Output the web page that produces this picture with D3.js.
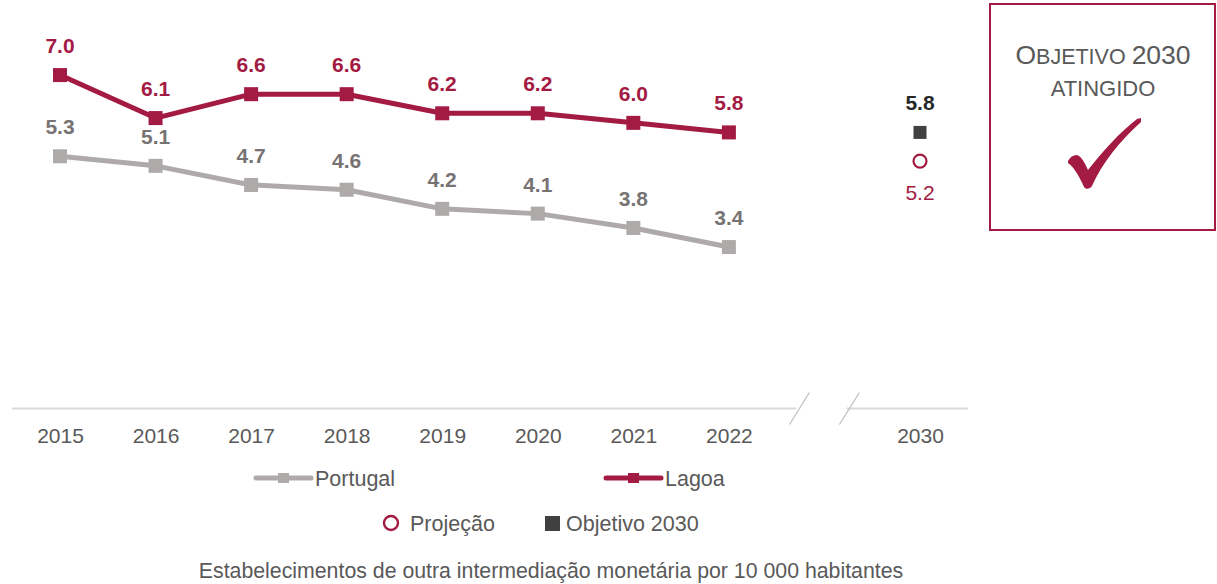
<!DOCTYPE html>
<html><head><meta charset="utf-8">
<script src="https://cdn.jsdelivr.net/npm/d3@7"></script>
<style>body{margin:0;background:#fff}svg{display:block;font-family:"Liberation Sans",Arial,sans-serif}</style>
</head><body><svg id="c" width="1217" height="584"></svg>
<script>
const years = ["2015","2016","2017","2018","2019","2020","2021","2022"];
const slots = [...years, "gap", "2030"];
const portugal = [5.3,5.1,4.7,4.6,4.2,4.1,3.8,3.4];
const lagoa = [7.0,6.1,6.6,6.6,6.2,6.2,6.0,5.8];
const objetivo2030 = 5.8;
const projecao2030 = 5.2;
const tickLabels = ["2015","2016","2017","2018","2019","2020","2021","2022","","2030"];
const title = "Estabelecimentos de outra intermediação monetária por 10 000 habitantes";

const RED = "#A31A42", GREY = "#AEAAAA", LBLGREY = "#777373", AX = "#595959", DARK = "#404040";
const svg = d3.select("#c");
const x = d3.scalePoint().domain(slots).range([60, 920]);
const y = d3.scaleLinear().domain([0, 8]).range([409.5, 27.3]);
const step = x.step();

// axis line with break
const axY = y(0) - 1;
const gx = x("gap");
svg.append("line").attr("x1", x("2015") - step/2).attr("x2", gx - 28).attr("y1", axY).attr("y2", axY).attr("stroke", "#D9D9D9").attr("stroke-width", 2);
svg.append("line").attr("x1", gx + 22).attr("x2", x("2030") + step/2).attr("y1", axY).attr("y2", axY).attr("stroke", "#D9D9D9").attr("stroke-width", 2);
[-25, 25].forEach(o => {
  svg.append("line").attr("x1", gx + o - 10).attr("y1", axY + 16).attr("x2", gx + o + 10).attr("y2", axY - 16)
    .attr("stroke", "#BFBFBF").attr("stroke-width", 1.2);
});
// tick labels
const axis = d3.axisBottom(x).tickSize(0).tickFormat((d, i) => tickLabels[i]);
const ga = svg.append("g").attr("transform", `translate(0,${axY})`).call(axis);
ga.select(".domain").remove();
ga.selectAll("text").attr("fill", AX).attr("font-size", 21).attr("font-family", "Liberation Sans, Arial").attr("dy", null).attr("y", 34);

function series(vals, color, lblColor) {
  const pts = vals.map((v, i) => [x(years[i]), y(v), v]);
  svg.append("path").attr("d", d3.line()(pts.map(p => [p[0], p[1]]))).attr("fill", "none")
    .attr("stroke", color).attr("stroke-width", 5).attr("stroke-linejoin", "round");
  svg.selectAll(null).data(pts).enter().append("rect")
    .attr("x", d => d[0] - 7).attr("y", d => d[1] - 7).attr("width", 14).attr("height", 14).attr("fill", color);
  svg.selectAll(null).data(pts).enter().append("text")
    .attr("x", d => d[0]).attr("y", d => d[1] - 22).attr("text-anchor", "middle")
    .attr("font-size", 21).attr("font-weight", "bold").attr("fill", lblColor).text(d => d[2].toFixed(1));
}
series(portugal, GREY, LBLGREY);
series(lagoa, RED, RED);

// 2030 points
const x30 = x("2030");
svg.append("rect").attr("x", x30 - 6.5).attr("y", y(objetivo2030) - 6.5).attr("width", 13).attr("height", 13).attr("fill", DARK);
svg.append("text").attr("x", x30).attr("y", y(objetivo2030) - 22).attr("text-anchor", "middle").attr("font-size", 21)
  .attr("font-weight", "bold").attr("fill", "#262626").text(objetivo2030.toFixed(1));
svg.append("circle").attr("cx", x30).attr("cy", y(projecao2030)).attr("r", 6.5).attr("fill", "none").attr("stroke", RED).attr("stroke-width", 2.2);
svg.append("text").attr("x", x30).attr("y", y(projecao2030) + 39).attr("text-anchor", "middle").attr("font-size", 21)
  .attr("fill", RED).text(projecao2030.toFixed(1));

// box
svg.append("rect").attr("x", 990).attr("y", 4).attr("width", 225).attr("height", 226).attr("fill", "none").attr("stroke", RED).attr("stroke-width", 2);
const t1 = svg.append("text").attr("x", 1103).attr("y", 64).attr("text-anchor", "middle").attr("fill", AX);
t1.append("tspan").attr("font-size", 26.5).text("O");
t1.append("tspan").attr("font-size", 21.5).text("BJETIVO ");
t1.append("tspan").attr("font-size", 26.5).text("2030");
svg.append("text").attr("x", 1103).attr("y", 96).attr("text-anchor", "middle").attr("fill", AX).attr("font-size", 22).text("ATINGIDO");
svg.append("path").attr("fill", RED)
  .attr("d", "M1068,161 C1070,157 1073,155 1077,155 C1081,156 1085,163 1088,170 C1103,151 1119,133 1137,119 L1141,118 L1141,122 C1120,141 1102,163 1092,186 C1090,189 1086,190 1084,187 C1080,178 1075,168 1068,163 Z");

// legend
function legLine(x0, color, label, yy) {
  svg.append("line").attr("x1", x0).attr("x2", x0 + 55).attr("y1", yy).attr("y2", yy).attr("stroke", color).attr("stroke-width", 5).attr("stroke-linecap", "round");
  svg.append("rect").attr("x", x0 + 22).attr("y", yy - 5).attr("width", 11).attr("height", 10).attr("fill", color);
  svg.append("text").attr("x", x0 + 59).attr("y", yy + 7.5).attr("font-size", 21.5).attr("fill", AX).text(label);
}
legLine(256, GREY, "Portugal", 478);
legLine(606, RED, "Lagoa", 478);
svg.append("circle").attr("cx", 391).attr("cy", 523).attr("r", 7).attr("fill", "none").attr("stroke", RED).attr("stroke-width", 2.4);
svg.append("text").attr("x", 410).attr("y", 530.5).attr("font-size", 21.5).attr("fill", AX).text("Projeção");
svg.append("rect").attr("x", 545).attr("y", 516).attr("width", 15).attr("height", 15).attr("fill", DARK);
svg.append("text").attr("x", 566).attr("y", 530.5).attr("font-size", 21.5).attr("fill", AX).text("Objetivo 2030");

svg.append("text").attr("x", 551).attr("y", 578).attr("text-anchor", "middle").attr("font-size", 21.3).attr("fill", AX).text(title);
</script></body></html>
